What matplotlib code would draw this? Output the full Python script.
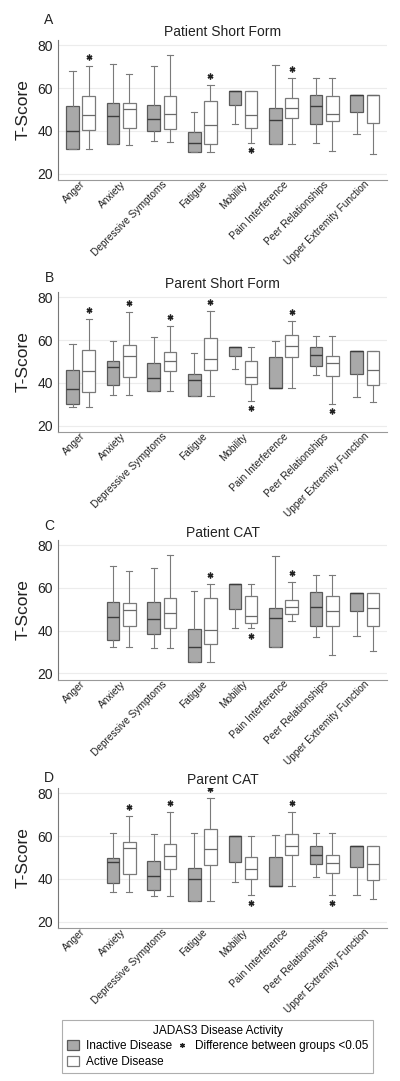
import matplotlib
matplotlib.use('Agg')
import matplotlib.pyplot as plt
from matplotlib.patches import Patch
from matplotlib.lines import Line2D
import matplotlib.transforms as mtransforms

plt.rcParams['font.family'] = ['Liberation Sans', 'DejaVu Sans']

# Categories (x axis)
domains = ['Anger', 'Anxiety', 'Depressive Symptoms', 'Fatigue', 'Mobility',
           'Pain Interference', 'Peer Relationships', 'Upper Extremity Function']

panel_letters = ['A', 'B', 'C', 'D']
panel_titles = ['Patient Short Form', 'Parent Short Form', 'Patient CAT', 'Parent CAT']

# five-number summaries: [whisker low, q1, median, q3, whisker high]; None = not measured
# A - Patient Short Form
a_inactive = [[31.4, 31.4, 40.1, 51.6, 68.0], [33.7, 33.7, 46.8, 53.2, 71.1],
              [35.1, 40.0, 45.4, 52.3, 70.2], [30.2, 30.2, 34.4, 39.7, 48.7],
              [43.4, 52.3, 58.5, 58.5, 58.5], [34.0, 34.0, 45.1, 50.7, 70.8],
              [34.5, 43.4, 51.5, 56.6, 64.7], [38.6, 48.8, 56.6, 56.6, 56.6]]
a_active = [[31.6, 40.6, 47.3, 56.2, 70.5], [33.6, 41.5, 50.4, 53.2, 66.8],
            [35.0, 41.1, 48.1, 56.2, 75.6], [30.3, 34.0, 42.9, 53.8, 61.6],
            [34.5, 41.5, 47.3, 58.5, 58.5], [34.0, 45.9, 50.6, 55.5, 64.7],
            [30.8, 44.8, 48.1, 56.2, 64.7], [29.1, 43.9, 56.6, 56.6, 56.6]]

# B - Parent Short Form
b_inactive = [[29.0, 30.0, 37.3, 45.9, 58.1], [34.5, 38.9, 47.5, 50.3, 59.7],
              [36.1, 36.1, 42.3, 49.5, 61.3], [34.0, 34.0, 41.5, 44.2, 54.2],
              [46.7, 52.6, 56.6, 56.6, 56.6], [37.8, 37.8, 37.8, 52.3, 59.7],
              [43.9, 48.0, 53.3, 56.6, 62.0], [33.4, 44.4, 54.8, 54.8, 54.8]]
b_active = [[29.0, 35.9, 45.4, 55.6, 69.9], [34.5, 42.8, 52.5, 57.7, 73.3],
            [36.2, 45.4, 50.1, 54.7, 66.6], [34.0, 45.9, 51.4, 60.9, 73.8],
            [31.8, 39.5, 42.6, 50.1, 56.6], [37.8, 52.2, 57.2, 62.2, 68.8],
            [30.3, 43.1, 49.5, 52.5, 62.0], [31.0, 39.2, 45.9, 54.8, 54.8]]

# C - Patient CAT
c_inactive = [None, [32.5, 35.6, 46.6, 53.2, 70.4],
              [32.0, 38.5, 45.5, 53.3, 69.2], [25.5, 25.5, 32.3, 40.6, 58.6],
              [41.3, 50.2, 61.9, 61.9, 61.9], [32.3, 32.3, 45.7, 50.7, 75.1],
              [37.0, 42.4, 51.1, 58.3, 66.1], [37.6, 49.4, 57.4, 57.4, 57.4]]
c_active = [None, [32.5, 42.1, 49.7, 53.0, 67.9],
            [32.0, 41.3, 48.2, 55.2, 75.4], [25.5, 33.9, 40.2, 55.2, 62.0],
            [41.3, 43.4, 46.8, 56.4, 61.9], [44.4, 47.7, 51.0, 54.1, 62.8],
            [28.6, 42.0, 49.1, 56.1, 66.1], [30.6, 42.4, 50.4, 57.4, 57.4]]

# D - Parent CAT
d_inactive = [None, [33.7, 37.9, 47.7, 49.6, 61.6],
              [32.1, 34.9, 41.5, 48.5, 60.9], [29.8, 29.8, 40.2, 45.0, 61.6],
              [38.7, 47.7, 60.3, 60.3, 60.3], [36.9, 36.9, 36.9, 50.2, 60.6],
              [40.8, 47.1, 51.1, 55.6, 61.6], [32.4, 45.7, 55.6, 55.6, 55.6]]
d_active = [None, [33.7, 42.1, 54.5, 57.5, 69.3],
            [32.1, 44.7, 50.7, 56.4, 71.2], [29.8, 46.3, 53.9, 63.3, 77.8],
            [32.4, 40.2, 44.6, 50.5, 60.3], [36.9, 51.0, 55.3, 60.8, 71.4],
            [32.3, 42.9, 47.5, 51.3, 61.6], [30.6, 39.4, 47.1, 55.6, 55.6]]

# significant differences (category index, star above 'up' or below 'down' the active box)
a_stars = [(0, 'up'), (3, 'up'), (4, 'down'), (5, 'up')]
b_stars = [(0, 'up'), (1, 'up'), (2, 'up'), (3, 'up'), (4, 'down'), (5, 'up'), (6, 'down')]
c_stars = [(3, 'up'), (4, 'down'), (5, 'up')]
d_stars = [(1, 'up'), (2, 'up'), (3, 'up'), (4, 'down'), (5, 'up'), (6, 'down')]

panels = [(a_inactive, a_active, a_stars), (b_inactive, b_active, b_stars),
          (c_inactive, c_active, c_stars), (d_inactive, d_active, d_stars)]

W, H = 400, 1081
fig = plt.figure(figsize=(W / 100, H / 100), dpi=100)

# axes boxes in pixels: left, top, right, bottom
axes_px = [(58.3, 40, 387, 180), (58.3, 292, 387, 432),
           (58.3, 539.7, 387, 679.7), (58.3, 788, 387, 928)]
title_y = [32.5, 284, 533, 780]
letter_y = [20, 277.5, 526, 777.5]

gray_fill = '#a9a9a9'
edge_dark = '#5a5a5a'
edge_light = '#7a7a7a'
offset = 0.2
width = 0.31


def stats_list(rows):
    out = []
    for r in rows:
        lo, q1, med, q3, hi = r
        out.append(dict(whislo=lo, q1=q1, med=med, q3=q3, whishi=hi, fliers=[]))
    return out


for k, (inactive, active, stars) in enumerate(panels):
    l, t, r, b = axes_px[k]
    ax = fig.add_axes([l / W, 1 - b / H, (r - l) / W, (b - t) / H])

    pos_in = [i - offset for i, v in enumerate(inactive) if v is not None]
    pos_ac = [i + offset for i, v in enumerate(active) if v is not None]
    rows_in = [v for v in inactive if v is not None]
    rows_ac = [v for v in active if v is not None]

    ax.bxp(stats_list(rows_in), positions=pos_in, widths=width, patch_artist=True,
           showfliers=False,
           boxprops=dict(facecolor=gray_fill, edgecolor=edge_dark, linewidth=0.9),
           medianprops=dict(color='#3c3c3c', linewidth=1.0),
           whiskerprops=dict(color=edge_light, linewidth=0.8),
           capprops=dict(color=edge_light, linewidth=0.8))
    ax.bxp(stats_list(rows_ac), positions=pos_ac, widths=width, patch_artist=True,
           showfliers=False,
           boxprops=dict(facecolor='white', edgecolor=edge_light, linewidth=0.9),
           medianprops=dict(color='#6a6a6a', linewidth=0.9),
           whiskerprops=dict(color=edge_light, linewidth=0.8),
           capprops=dict(color=edge_light, linewidth=0.8))

    for ci, direction in stars:
        lo, q1, med, q3, hi = active[ci]
        y = hi + 4.2 if direction == 'up' else lo - 3.6
        ax.plot(ci + offset, y, marker=(6, 2, 0), ms=4.2, mew=1.0, color='#222222')

    ax.set_xlim(-0.55, 7.55)
    ax.set_ylim(17.1, 82.5)
    ax.set_yticks([20, 40, 60, 80])
    ax.grid(axis='y', color='#ececec', linewidth=0.8)
    ax.set_axisbelow(True)
    for s in ['top', 'right']:
        ax.spines[s].set_visible(False)
    ax.spines['left'].set_color('#777777')
    ax.spines['bottom'].set_color('#999999')
    ax.spines['left'].set_linewidth(0.8)
    ax.spines['bottom'].set_linewidth(0.8)
    ax.tick_params(axis='both', length=0)
    ax.tick_params(axis='y', labelsize=10, pad=4, labelcolor='#222222')
    ax.tick_params(axis='x', pad=2)
    ax.set_xticks(range(len(domains)))
    ax.set_xticklabels(domains, rotation=45, ha='right', va='center',
                       rotation_mode='anchor', fontsize=7.3, color='#222222')
    shift = mtransforms.ScaledTranslation(3 / 100, 0, fig.dpi_scale_trans)
    for lab in ax.get_xticklabels():
        lab.set_transform(lab.get_transform() + shift)
    ax.set_ylabel('T-Score', fontsize=12.5, labelpad=5, color='#222222')

    fig.text(222.5 / W, 1 - title_y[k] / H, panel_titles[k], ha='center', va='center',
             fontsize=10, color='#222222')
    fig.text(49 / W, 1 - letter_y[k] / H, panel_letters[k], ha='center', va='center',
             fontsize=10, color='#222222')

handles = [Patch(facecolor=gray_fill, edgecolor=edge_dark, linewidth=0.9),
           Patch(facecolor='white', edgecolor=edge_light, linewidth=0.9),
           Line2D([], [], linestyle='none', marker=(6, 2, 0), ms=3.5, mew=0.9, color='#222222')]
labels = ['Inactive Disease', 'Active Disease', 'Difference between groups <0.05']
leg = fig.legend(handles, labels, ncol=2, loc='upper left',
                 bbox_to_anchor=(62 / W, 1 - 1020 / H), borderaxespad=0,
                 title='JADAS3 Disease Activity', title_fontsize=8.5, fontsize=8.5,
                 frameon=True, fancybox=False, edgecolor='#9a9a9a',
                 handlelength=1.0, handleheight=0.9, handletextpad=0.6,
                 columnspacing=0.4, labelspacing=0.3, borderpad=0.4)
leg.get_frame().set_linewidth(0.8)

fig.savefig('out.png', dpi=100)
